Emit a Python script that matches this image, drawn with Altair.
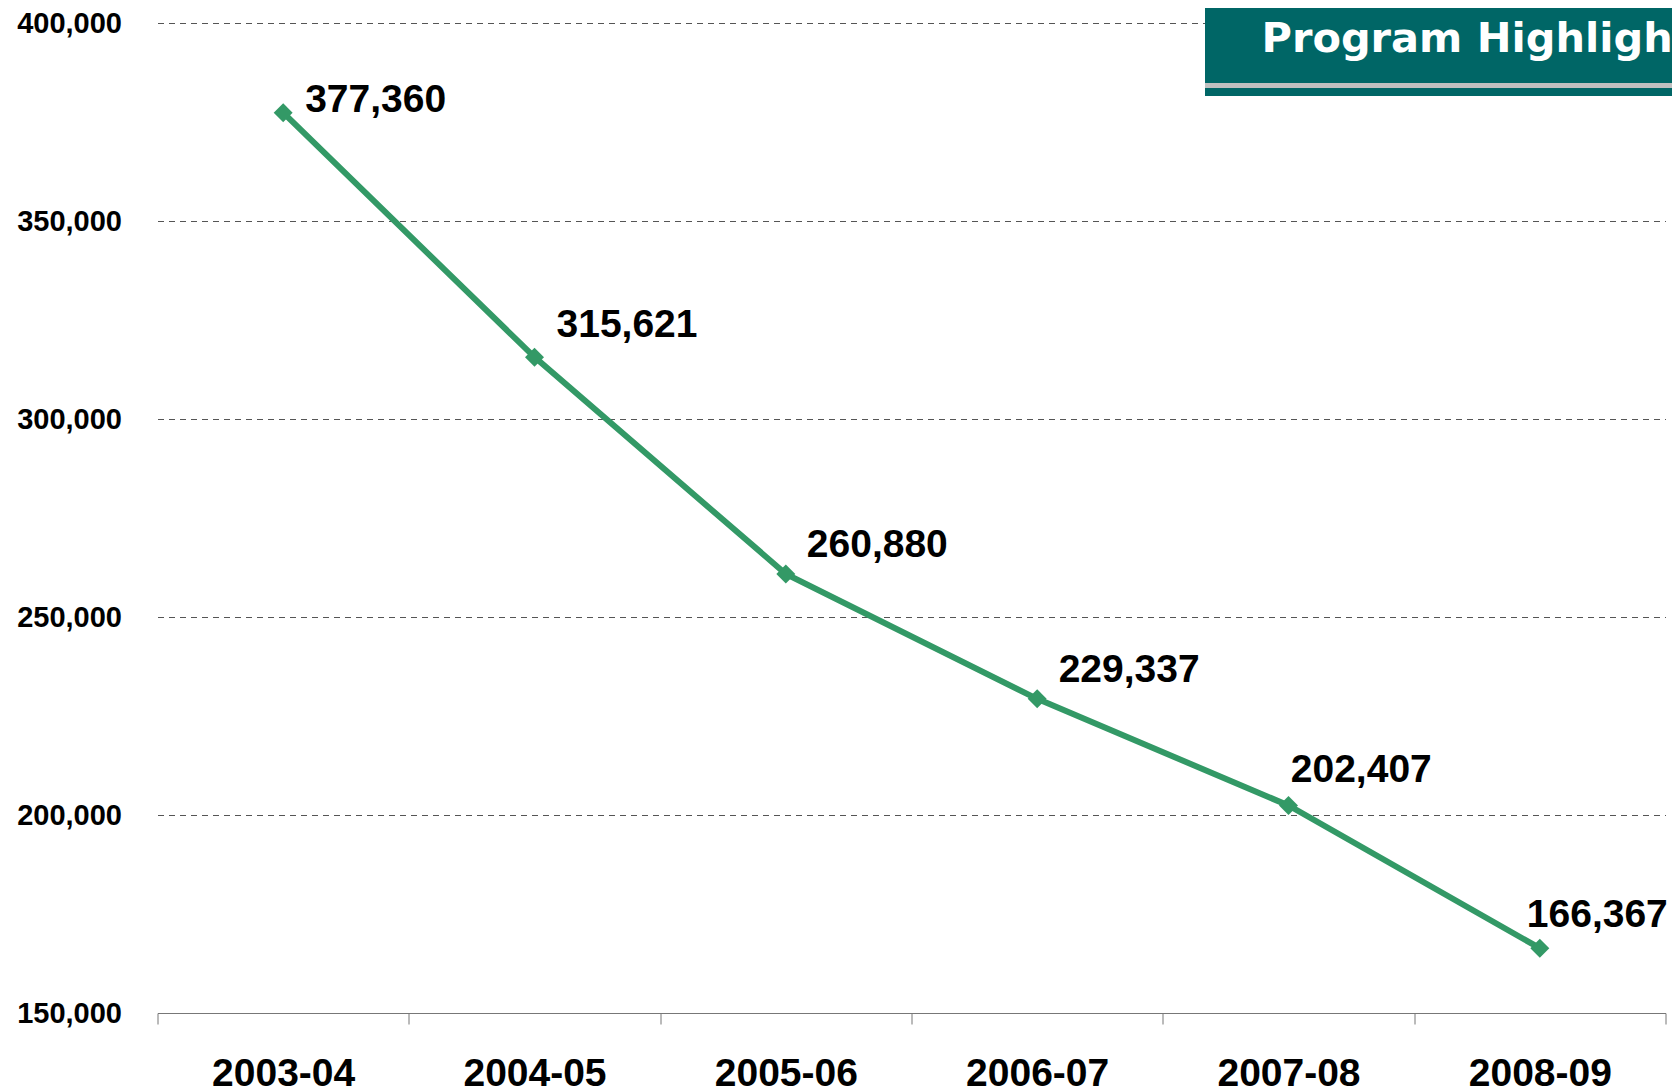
import altair as alt
import pandas as pd

# ---- data ----
periods = ["2003-04", "2004-05", "2005-06", "2006-07", "2007-08", "2008-09"]
values = [377360, 315621, 260880, 229337, 202407, 166367]
y_ticks = [150000, 200000, 250000, 300000, 350000, 400000]
banner_text = "Program Highligh"

# label placement offsets (pixels, relative to each point)
label_dx = [22, 22, 21, 21.5, 2.3, -13]
label_dy = [-1, -20.5, -16.7, -17.3, -23.8, -21.5]

GREEN = "#339966"
TEAL = "#006666"
FONT = "Liberation Sans"

W, H = 1508, 990

df = pd.DataFrame({"period": periods, "value": values})

x_enc = alt.X(
    "period:N",
    sort=periods,
    bandPosition=0.5,
    scale=alt.Scale(type="band", paddingInner=0, paddingOuter=0),
    axis=alt.Axis(
        title=None,
        labelAngle=0,
        labelFont=FONT,
        labelFontSize=39,
        labelFontWeight="bold",
        labelColor="#000000",
        labelPadding=30,
        tickBand="extent",
        tickSize=11,
        tickColor="#777777",
        tickWidth=1,
        domainColor="#777777",
        domainWidth=1.2,
        grid=False,
    ),
)
y_enc = alt.Y(
    "value:Q",
    scale=alt.Scale(domain=[150000, 400000], nice=False, zero=False),
    axis=alt.Axis(
        title=None,
        values=y_ticks,
        format=",.0f",
        labelFont=FONT,
        labelFontSize=29,
        labelFontWeight="bold",
        labelColor="#000000",
        labelPadding=36,
        ticks=False,
        tickSize=0,
        domain=False,
        grid=True,
        gridColor="#555555",
        gridWidth=1,
        gridDash=[6, 5],
    ),
)

base = alt.Chart(df)

line = base.mark_line(color=GREEN, strokeWidth=6).encode(x=x_enc, y=y_enc)
pts = base.mark_point(
    shape="diamond", filled=True, color=GREEN, size=360, opacity=1
).encode(x=x_enc, y=y_enc)

labels = []
for i, p in enumerate(periods):
    labels.append(
        base.transform_filter(alt.datum.period == p)
        .mark_text(
            align="left",
            baseline="alphabetic",
            dx=label_dx[i],
            dy=label_dy[i],
            font=FONT,
            fontSize=39,
            fontWeight="bold",
            color="#000000",
        )
        .encode(
            x=x_enc,
            y=y_enc,
            text=alt.Text("value:Q", format=","),
        )
    )

# decorative banner at top right
deco = alt.Chart(pd.DataFrame({"k": [0]}))
banner = deco.mark_rect(color=TEAL, clip=False).encode(
    x=alt.value(1047.5), x2=alt.value(1530), y=alt.value(-20), y2=alt.value(60)
)
stripe = deco.mark_rect(color="#C0C0C0", clip=False).encode(
    x=alt.value(1047.5), x2=alt.value(1530), y=alt.value(60), y2=alt.value(65)
)
banner2 = deco.mark_rect(color=TEAL, clip=False).encode(
    x=alt.value(1047.5), x2=alt.value(1530), y=alt.value(65), y2=alt.value(73)
)
btext = deco.mark_text(
    align="left",
    baseline="alphabetic",
    font="DejaVu Sans",
    fontSize=41.5,
    fontWeight="bold",
    color="#FFFFFF",
    clip=False,
).encode(x=alt.value(1104), y=alt.value(29), text=alt.value(banner_text))

chart = (
    alt.layer(line, pts, *labels, banner, stripe, banner2, btext)
    .properties(
        width=W,
        height=H,
        autosize=alt.AutoSizeParams(type="none"),
        padding={"left": 149.5, "top": 15, "right": 6.5, "bottom": 83},
        background="#FFFFFF",
    )
    .configure_view(stroke=None)
)

chart.save("out.html", embed_options={"renderer": "svg", "actions": False})
